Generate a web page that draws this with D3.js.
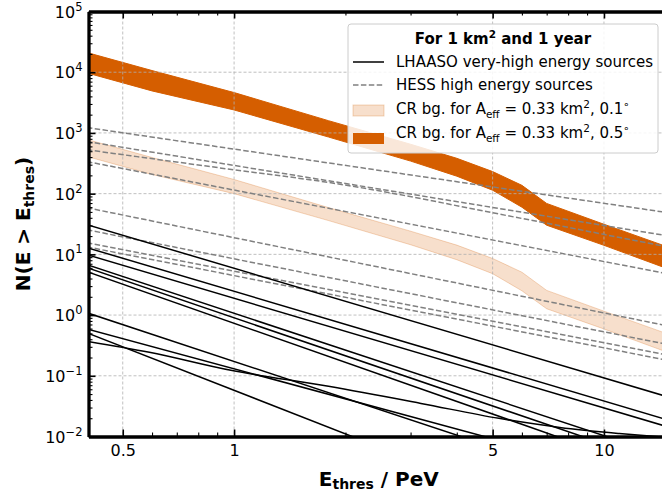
<!DOCTYPE html>
<html><head><meta charset="utf-8">
<script src="https://cdn.jsdelivr.net/npm/d3@7"></script>
<style>body{margin:0;background:#fff}svg{display:block}text{font-family:"DejaVu Sans",sans-serif;fill:#000}</style>
</head><body><svg id="c" width="662" height="494"></svg>
<script>
// ---- data ----
const xTicks = [0.5, 1, 5, 10];
const xTickLabels = ["0.5", "1", "5", "10"];
const xMinorTicks = [0.6, 0.7, 0.8, 0.9, 2, 3, 4, 6, 7, 8, 9];
const yExponents = [-2, -1, 0, 1, 2, 3, 4, 5];

// CR background bands (N at energies bandE)
const bandE      = [0.4, 0.6, 1, 1.8, 3, 4, 5, 6, 7, 10, 15];
const band01Hi   = [782, 394, 171, 58.9, 24.1, 14.2, 8.56, 5.08, 2.55, 1.16, 0.48];
const band01Lo   = [409, 207, 100, 36.0, 14.4, 8.16, 4.8, 2.51, 1.27, 0.59, 0.238];
const band05Hi   = [21100, 10650, 4620, 1590, 651, 382, 231, 137, 68.9, 31.3, 13.0];
const band05Lo   = [9740, 4920, 2390, 856, 344, 194, 114, 59.8, 30.2, 14.1, 5.67];

// HESS high energy sources: [E, N(>E)]
const hessLines = [
  [[0.4, 1227], [15, 48.3]],
  [[0.4, 721], [15, 20]],
  [[0.4, 528], [1, 247], [1.8, 153], [6, 39], [15, 13.1]],
  [[0.4, 337], [15, 4.72]],
  [[0.4, 58.6], [15, 0.656]],
  [[0.4, 25.4], [15, 0.325]],
  [[0.4, 15.5], [15, 0.217]],
  [[0.4, 13.3], [15, 0.178]]
];
// LHAASO very-high energy sources
const lhaasoLines = [
  [[0.4, 30.9], [15, 0.0443]],
  [[0.4, 12.9], [15, 0.0185]],
  [[0.4, 9.9], [15, 0.0142]],
  [[0.4, 6.77], [15, 0.00456]],
  [[0.4, 6.04], [15, 0.00326]],
  [[0.4, 5.19], [15, 0.00224]],
  [[0.4, 1.09], [15, 0.000735]],
  [[0.4, 0.592], [15, 0.0015]],
  [[0.4, 0.51], [15, 0.000091]],
  [[0.4, 0.371], [0.59, 0.244], [0.98, 0.123], [1.8, 0.067], [3.2, 0.0351], [5.2, 0.0199], [7.6, 0.0141], [11, 0.0112], [15, 0.0096]]
];

// ---- drawing ----
const svg = d3.select("#c");
const L = 88.5, R = 669.1, T = 11.5, B = 436.5;
const x = d3.scaleLog().domain([0.404, 15]).range([L, R]);
const y = d3.scaleLog().domain([1e-2, 1e5]).range([B, T]);
const ORANGE = "#d55e00";

svg.append("defs").append("clipPath").attr("id", "clip")
  .append("rect").attr("x", L).attr("y", T).attr("width", R - L).attr("height", B - T);
const plot = svg.append("g").attr("clip-path", "url(#clip)");

// bands
const area = (hi, lo) => d3.area().x((d, i) => x(bandE[i])).y0((d, i) => y(lo[i])).y1((d, i) => y(hi[i]))(bandE);
plot.append("path").attr("d", area(band01Hi, band01Lo))
  .attr("fill", ORANGE).attr("fill-opacity", 0.2).attr("stroke", ORANGE).attr("stroke-opacity", 0.25).attr("stroke-width", 1);
plot.append("path").attr("d", area(band05Hi, band05Lo))
  .attr("fill", ORANGE).attr("stroke", ORANGE).attr("stroke-width", 1).attr("stroke-linejoin", "round");

// grid
const grid = plot.append("g").attr("stroke", "#b0b0b0").attr("stroke-width", 0.8).attr("stroke-dasharray", "3,2");
xTicks.forEach(t => grid.append("line").attr("x1", x(t)).attr("x2", x(t)).attr("y1", T).attr("y2", B));
yExponents.forEach(e => grid.append("line").attr("x1", L).attr("x2", R).attr("y1", y(Math.pow(10, e))).attr("y2", y(Math.pow(10, e))));

// lines
const line = d3.line().x(d => x(d[0])).y(d => y(d[1])).curve(d3.curveMonotoneX);
hessLines.forEach(s => plot.append("path").attr("d", line(s)).attr("fill", "none")
  .attr("stroke", "#808080").attr("stroke-width", 1.5).attr("stroke-dasharray", "5.5,2.4"));
lhaasoLines.forEach(s => plot.append("path").attr("d", line(s)).attr("fill", "none")
  .attr("stroke", "#000").attr("stroke-width", 1.5));

// axes
const gBottom = svg.append("g").attr("transform", `translate(0,${B})`)
  .call(d3.axisBottom(x).tickValues(xTicks).tickFormat((d, i) => xTickLabels[i]).tickSize(-7).tickSizeOuter(0).tickPadding(8));
const gBottomMinor = svg.append("g").attr("transform", `translate(0,${B})`)
  .call(d3.axisBottom(x).tickValues(xMinorTicks).tickFormat("").tickSize(-4).tickSizeOuter(0));
const gTop = svg.append("g").attr("transform", `translate(0,${T})`)
  .call(d3.axisTop(x).tickValues(xTicks).tickFormat("").tickSize(-7).tickSizeOuter(0));
const gTopMinor = svg.append("g").attr("transform", `translate(0,${T})`)
  .call(d3.axisTop(x).tickValues(xMinorTicks).tickFormat("").tickSize(-4).tickSizeOuter(0));
const yMinor = [];
yExponents.slice(0, -1).forEach(e => { for (let m = 2; m <= 9; m++) yMinor.push(m * Math.pow(10, e)); });
const gLeft = svg.append("g").attr("transform", `translate(${L},0)`)
  .call(d3.axisLeft(y).tickValues(yExponents.map(e => Math.pow(10, e))).tickSize(-7).tickSizeOuter(0).tickPadding(6));
const gLeftMinor = svg.append("g").attr("transform", `translate(${L},0)`)
  .call(d3.axisLeft(y).tickValues(yMinor).tickFormat("").tickSize(-4).tickSizeOuter(0));

[gBottom, gBottomMinor, gTop, gTopMinor, gLeft, gLeftMinor].forEach(g => {
  g.select(".domain").attr("stroke", "#000").attr("stroke-width", 2.8);
  g.selectAll(".tick line").attr("stroke", "#000");
  g.selectAll("text").attr("font-size", 16).attr("font-family", "DejaVu Sans").attr("fill", "#000");
});
[gBottom, gTop, gLeft].forEach(g => g.selectAll(".tick line").attr("stroke-width", 1.6));
[gBottomMinor, gTopMinor, gLeftMinor].forEach(g => g.selectAll(".tick line").attr("stroke-width", 1.1));
gBottom.selectAll(".tick text").attr("dy", "0.71em");

gLeft.selectAll(".tick text").each(function (d) {
  const e = Math.round(Math.log10(d));
  const t = d3.select(this).text(null).attr("dy", "0.36em");
  t.append("tspan").text("10");
  t.append("tspan").attr("font-size", 11.5).attr("dy", "-0.62em").text(e < 0 ? "\u2212" + (-e) : String(e));
});

// axis labels
const xl = svg.append("text").attr("x", (L + R) / 2).attr("y", 486).attr("text-anchor", "middle")
  .attr("font-weight", "bold").attr("font-size", 20);
xl.append("tspan").text("E");
xl.append("tspan").attr("font-size", 14).attr("dy", 3).text("thres");
xl.append("tspan").attr("dy", -3).text(" / PeV");

const yl = svg.append("text").attr("transform", "translate(30,224) rotate(-90)").attr("text-anchor", "middle")
  .attr("font-weight", "bold").attr("font-size", 20);
yl.append("tspan").text("N(E > E");
yl.append("tspan").attr("font-size", 14).attr("dy", 4).text("thres");
yl.append("tspan").attr("dy", -4).text(")");

// legend
const lg = svg.append("g");
lg.append("rect").attr("x", 348).attr("y", 24).attr("width", 310).attr("height", 129).attr("rx", 3)
  .attr("fill", "#fff").attr("fill-opacity", 0.85).attr("stroke", "#cccccc").attr("stroke-width", 1);
const ttl = lg.append("text").attr("x", 503).attr("y", 44).attr("text-anchor", "middle")
  .attr("font-weight", "bold").attr("font-size", 15);
ttl.append("tspan").text("For 1 km");
ttl.append("tspan").attr("font-size", 10.5).attr("dy", -6).text("2");
ttl.append("tspan").attr("dy", 6).text(" and 1 year");

const hx0 = 353, hx1 = 384, tx = 396;
lg.append("line").attr("x1", hx0).attr("x2", hx1).attr("y1", 62).attr("y2", 62).attr("stroke", "#000").attr("stroke-width", 1.5);
lg.append("line").attr("x1", hx0).attr("x2", hx1).attr("y1", 85).attr("y2", 85).attr("stroke", "#808080").attr("stroke-width", 1.5).attr("stroke-dasharray", "5.5,2.4");
lg.append("rect").attr("x", hx0).attr("y", 105).attr("width", hx1 - hx0).attr("height", 11)
  .attr("fill", ORANGE).attr("fill-opacity", 0.2).attr("stroke", ORANGE).attr("stroke-opacity", 0.25);
lg.append("rect").attr("x", hx0).attr("y", 133).attr("width", hx1 - hx0).attr("height", 11).attr("fill", ORANGE);

const lt = (yy) => lg.append("text").attr("x", tx).attr("y", yy).attr("font-size", 15);
lt(67).text("LHAASO very-high energy sources");
lt(90).text("HESS high energy sources");
[["0.1", 114], ["0.5", 138]].forEach(([deg, yy]) => {
  const t = lt(yy);
  t.append("tspan").text("CR bg. for A");
  t.append("tspan").attr("font-size", 10.5).attr("dy", 4).text("eff");
  t.append("tspan").attr("dy", -4).text(" = 0.33 km");
  t.append("tspan").attr("font-size", 10.5).attr("dy", -6).text("2");
  t.append("tspan").attr("dy", 6).text(", " + deg);
  t.append("tspan").attr("font-size", 10.5).attr("dy", -6).text("\u2218");
});
</script></body></html>
